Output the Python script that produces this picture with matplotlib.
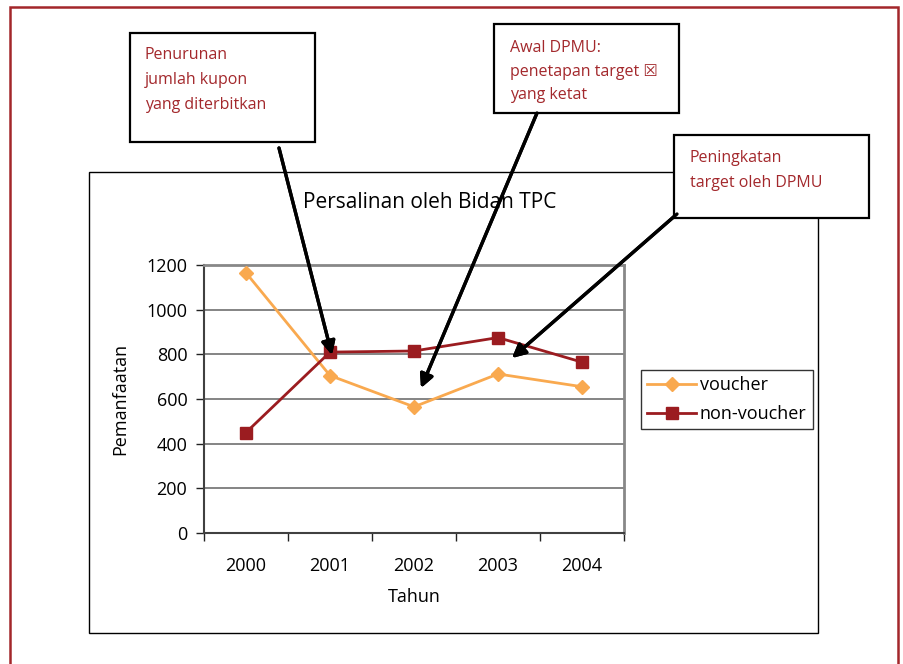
# Persalinan oleh Bidan TPC - line chart with callout boxes
import matplotlib.pyplot as plt
from matplotlib.patches import Rectangle

plt.rcParams['font.family'] = ['Open Sans', 'DejaVu Sans']

years = ['2000', '2001', '2002', '2003', '2004']
voucher = [1165, 705, 565, 712, 655]
non_voucher = [450, 810, 815, 875, 765]
y_ticks = [0, 200, 400, 600, 800, 1000, 1200]

W, H = 904, 664
C_VOUCHER = '#F9A94F'
C_NONVOUCHER = '#9B1C20'
C_NOTE = '#A3282C'


def px(x, y):
    # pixel coords (origin top-left) -> figure fraction
    return (x / W, 1 - y / H)


fig = plt.figure(figsize=(W / 100, H / 100), dpi=100)
fig.patch.set_facecolor('white')

# outer red frame
fig.patches.append(Rectangle(px(10, 700), 888 / W, 693 / H, transform=fig.transFigure,
                             fill=False, edgecolor='#A3262A', lw=1.8, zorder=0))
# chart area box
fig.patches.append(Rectangle(px(89, 633), (818 - 89) / W, (633 - 172) / H,
                             transform=fig.transFigure, fill=False, edgecolor='black',
                             lw=1.0, zorder=1))

# plot area
l, b = px(204, 533)
ax = fig.add_axes([l, b, (624 - 204) / W, (533 - 265) / H])
x = range(len(years))
ax.plot(x, voucher, color=C_VOUCHER, lw=2, marker='D', ms=7, label='voucher', zorder=3)
ax.plot(x, non_voucher, color=C_NONVOUCHER, lw=2, marker='s', ms=8, label='non-voucher', zorder=3)

ax.set_xlim(-0.5, len(years) - 0.5)
ax.set_ylim(0, 1200)
ax.set_yticks(y_ticks)
ax.set_yticklabels([str(v) for v in y_ticks], fontsize=13)
ax.set_xticks(list(x))
ax.set_xticklabels(years, fontsize=13)
ax.set_xticks([i - 0.5 for i in range(len(years) + 1)], minor=True)
ax.tick_params(axis='x', which='major', length=0, pad=17)
ax.tick_params(axis='x', which='minor', length=6, width=1, color='#222222')
ax.tick_params(axis='y', length=6, width=1, color='#222222', pad=6)
ax.grid(axis='y', color='#707070', lw=1.2)
ax.set_axisbelow(True)
for side in ['top', 'right']:
    ax.spines[side].set_color('#888888')
    ax.spines[side].set_linewidth(2)
for side in ['left', 'bottom']:
    ax.spines[side].set_color('#404040')
    ax.spines[side].set_linewidth(1.5)
ax.set_xlabel('Tahun', fontsize=13, labelpad=10)
ax.set_ylabel('Pemanfaatan', fontsize=13, labelpad=12)

fig.text(*px(430, 203), 'Persalinan oleh Bidan TPC', fontsize=15,
         ha='center', va='center')

leg = fig.legend(loc='upper left', bbox_to_anchor=px(641, 370), fontsize=13,
                 frameon=True, fancybox=False, edgecolor='black', borderpad=0.35,
                 handlelength=2.7, handletextpad=0.2, labelspacing=0.6,
                 borderaxespad=0)
leg.get_frame().set_linewidth(1.0)

# callout boxes
boxes = [
    ((130, 33, 315, 142), ['Penurunan', 'jumlah kupon', 'yang diterbitkan'], (145, [55, 80, 105])),
    ((494, 24, 679, 113), ['Awal DPMU:', 'penetapan target \u2612', 'yang ketat'], (510, [48, 72, 95])),
    ((674, 135, 869, 218), ['Peningkatan', 'target oleh DPMU'], (690, [158, 183])),
]

arrows = [
    ((279, 148), (332, 355)),
    ((537, 113), (421, 388)),
    ((677, 214), (512, 358)),
]
for (x0, y0), (x1, y1) in arrows:
    fig.add_artist(plt.annotate('', xy=px(x1, y1), xytext=px(x0, y0),
                                xycoords='figure fraction', textcoords='figure fraction',
                                arrowprops=dict(arrowstyle='-|>', color='black', lw=2.4,
                                                mutation_scale=20, shrinkA=0, shrinkB=0),
                                zorder=6))

for (x0, y0, x1, y1), lines, (tx, tys) in boxes:
    fig.patches.append(Rectangle(px(x0, y1), (x1 - x0) / W, (y1 - y0) / H,
                                 transform=fig.transFigure, facecolor='white',
                                 edgecolor='black', lw=1.6, zorder=5))
    for line, ty in zip(lines, tys):
        fig.text(*px(tx, ty), line, color=C_NOTE, fontsize=11.5, ha='left',
                 va='center', zorder=7)

plt.savefig('out.png', dpi=100, facecolor='white')
plt.close()
